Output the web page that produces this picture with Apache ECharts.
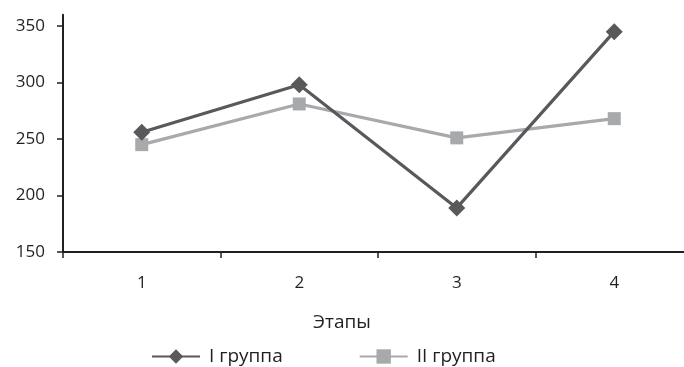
<!DOCTYPE html>
<html><head><meta charset="utf-8">
<script src="https://cdn.jsdelivr.net/npm/echarts@6/dist/echarts.min.js"></script>
<style>html,body{margin:0;padding:0;background:#fff;overflow:hidden;width:684px;height:367px}#c{width:693px;height:367px}</style>
</head><body><div id="c"></div>
<script>
var categories = ['1', '2', '3', '4'];
var group1 = [256, 298, 189, 345];
var group2 = [245, 281, 251, 268];
var yTicks = [150, 200, 250, 300, 350];
var seriesNames = ['I группа', 'II группа'];
var xName = 'Этапы';

var font = '"Open Sans", "Noto Sans", sans-serif';
var chart = echarts.init(document.getElementById('c'));
chart.setOption({
  animation: false,
  title: {
    text: xName, left: 337, top: 308, textAlign: 'center',
    textStyle: {fontFamily: font, fontSize: 19, fontWeight: 'normal', color: '#231f20'}
  },
  legend: {
    left: 146, top: 342, itemWidth: 48, itemHeight: 18, itemGap: 76,
    textStyle: {fontFamily: font, fontSize: 19, color: '#231f20', padding: [0,0,0,4]},
    data: seriesNames
  },
  grid: {left: 63, right: 0, top: 14.7, bottom: 115, containLabel: false},
  xAxis: {
    type: 'category', data: categories, boundaryGap: true,
    axisLine: {lineStyle: {color: '#231f20', width: 2}},
    axisTick: {show: true, length: 6, lineStyle: {color: '#231f20', width: 1.5}},
    axisLabel: {margin: 23, fontFamily: font, fontSize: 17, color: '#231f20'},
    splitLine: {show: false}
  },
  yAxis: {
    type: 'value', min: 150, max: 360, interval: 50,
    axisLine: {show: true, lineStyle: {color: '#231f20', width: 2}},
    axisTick: {show: true, length: 6, customValues: yTicks, lineStyle: {color: '#231f20', width: 1.5}},
    axisLabel: {margin: 18, customValues: yTicks, fontFamily: font, fontSize: 17, color: '#231f20'},
    splitLine: {show: false}
  },
  series: [
    {name: seriesNames[0], type: 'line', data: group1, symbol: 'diamond', symbolSize: 17,
     lineStyle: {color: '#58595b', width: 3.2}, itemStyle: {color: '#58595b'}, z: 3},
    {name: seriesNames[1], type: 'line', data: group2, symbol: 'rect', symbolSize: 13,
     lineStyle: {color: '#a7a9ac', width: 3.2}, itemStyle: {color: '#a7a9ac'}, z: 2}
  ]
});
</script></body></html>
